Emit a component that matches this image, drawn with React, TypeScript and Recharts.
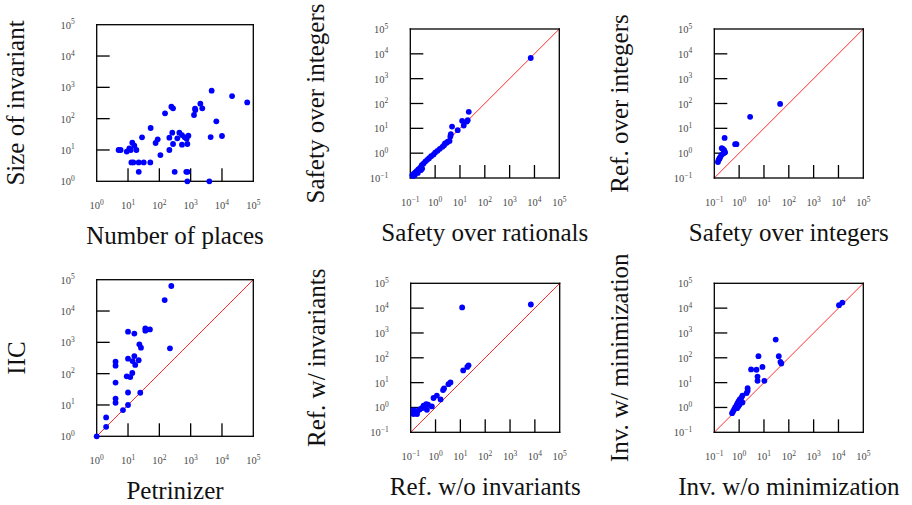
import React from "react";
import { Label, ReferenceLine, Scatter, ScatterChart, XAxis, YAxis } from "recharts";

// number of places vs size of invariant
const placesX = [5.0, 5.8, 9.1, 11, 12.2, 13.7, 15.9, 18.5, 12.8, 14.8, 21.9, 31.7, 51.5, 22, 28, 52.8, 76, 88.6, 108, 152, 209, 209, 242, 274, 259, 274, 309, 375, 436, 528, 528, 646, 745, 785, 846, 725, 800, 785, 1280, 1410, 1380, 2040, 2350, 4680, 4350, 6600, 3950, 10000, 21000, 64000];
const invariantSizeY = [10, 10, 8.9, 11.3, 10, 17, 13.7, 10, 4, 4, 4, 4, 4, 2, 25.4, 50.4, 16.7, 21.9, 6.9, 148, 10, 24.7, 241, 214, 35.8, 15.5, 2, 23.6, 35.8, 30, 14.8, 25.4, 23, 15.5, 28.7, 2, 2, 1, 131, 189, 209, 302, 214, 782, 25.9, 82, 1, 28, 528, 331];

// safety: rationals vs integers
const safetyRatX = [7070, 22.6, 20.5, 18.8, 12.2, 14.2, 8.1, 4.8, 4.3, 4.1, 3.8, 3.2, 2.9, 2.5, 2.3, 1.97, 1.54, 1.24, 1.0, 0.86, 0.69, 0.57, 0.48, 0.4, 0.34, 0.29, 0.25, 0.27, 0.21, 0.2, 0.18, 0.16, 0.14, 0.12, 0.13, 0.15, 0.23, 0.3];
const safetyIntY = [6800, 46, 21.3, 18.7, 20, 13, 8.4, 11.8, 5.8, 4.7, 3.1, 2.9, 2.6, 2.45, 2.1, 1.8, 1.49, 1.24, 1.06, 0.88, 0.76, 0.63, 0.54, 0.46, 0.38, 0.33, 0.26, 0.21, 0.22, 0.16, 0.19, 0.17, 0.15, 0.13, 0.12, 0.13, 0.2, 0.24];

// safety over integers vs refinement over integers
const safetyIntX = [44.7, 2.77, 0.26, 0.69, 0.78, 0.2, 0.25, 0.27, 0.23, 0.19, 0.17, 0.15, 0.14, 0.26, 0.22, 0.16];
const refIntY = [96, 29, 4.1, 2.3, 2.3, 1.59, 1.32, 1.1, 0.97, 0.83, 0.67, 0.54, 0.44, 1.06, 1.5, 0.6];

// petrinizer vs IIC
const petrinizerX = [1, 2, 2, 4, 4, 4, 4, 4, 6.9, 10, 10, 9.1, 11.8, 13.7, 10, 10, 15.9, 14, 15.9, 17, 21.9, 24.6, 23, 25.9, 35.7, 35.7, 50, 148, 241, 218];
const iicY = [1, 2, 4, 11.8, 16, 52, 180, 240, 6.9, 10, 25, 82, 78, 105, 300, 2190, 1900, 253, 365, 190, 268, 24.6, 867, 676, 2800, 2350, 2590, 22400, 63000, 645];

// refinement without / with invariants
const refNoInvX = [6900, 11.8, 21.3, 19, 13, 4, 3.3, 2.2, 2, 1.6, 1.13, 0.83, 0.71, 0.42, 0.45, 0.33, 0.28, 0.23, 0.19, 0.15, 0.13, 0.18, 0.13, 0.5, 0.38];
const refInvY = [14000, 10700, 50, 43, 31, 10.2, 8.7, 5.8, 5, 2.1, 3.0, 2.4, 1.1, 1.36, 0.81, 1.17, 0.94, 0.83, 0.73, 0.63, 0.54, 0.54, 0.78, 1.3, 1.0];

// invariants without / with minimization
const invNoMinX = [14400, 10500, 29.7, 39.5, 6, 50, 46, 8.7, 3.03, 5, 5.5, 5.5, 10.4, 2.2, 2.2, 2.0, 1.36, 1.24, 1.06, 0.94, 0.85, 0.78, 0.69, 0.63, 0.57, 0.52, 1.36, 1.06, 0.94, 0.83];
const invMinY = [16700, 13100, 540, 116, 116, 59, 69, 43, 34, 33, 17.6, 11.8, 11.8, 6, 4.7, 3.8, 3.0, 2.5, 2.1, 1.74, 1.45, 1.2, 1.0, 0.83, 0.69, 0.59, 1.59, 1.36, 1.13, 0.94];

const ticksFrom01 = [0.1, 1, 10, 100, 1000, 10000, 100000];
const ticksFrom1 = [1, 10, 100, 1000, 10000, 100000];
const MAX = 100000;

const TICK_LEN = 13;
const LW = 1.3;
const Y_AXIS_W = 40;
const X_AXIS_H = 40;
const SERIF = "'Liberation Serif', 'Times New Roman', serif";

const TickText = ({ x, y, anchor, value }: { x: number; y: number; anchor: string; value: number }) => {
    const e = Math.round(Math.log10(value));
    return (
        <text x={x} y={y} textAnchor={anchor as any} fontFamily={SERIF} fontSize={10.5} fill="#4a4a4a">
            10
            <tspan dy={-4.5} fontSize={7.5}>
                {e < 0 ? `\u2212${-e}` : `${e}`}
            </tspan>
        </text>
    );
};

// inward tick marks as thin filled bars on the frame
const xTickShape = (s: any) => <rect x={s.cx - LW / 2} y={s.cy - TICK_LEN} width={LW} height={TICK_LEN} fill="#000" />;
const yTickShape = (s: any) => <rect x={s.cx} y={s.cy - LW / 2} width={TICK_LEN} height={LW} fill="#000" />;
const dotShape = (s: any) => <circle cx={s.cx} cy={s.cy} r={2.9} fill="#0000ff" />;

interface PanelProps {
    id: string;
    left: number;
    top: number;
    width: number;
    height: number;
    boxX: number;
    boxY: number;
    box: number;
    min: number;
    xs: number[];
    ys: number[];
    xTitle: string;
    yTitle: string;
    yTitleGap: number;
    diagonal: boolean;
}

const ScatterPanel: React.FC<PanelProps> = (p) => {
    const bl = p.boxX - p.left;
    const bt = p.boxY - p.top;
    const bottom = bt + p.box;
    const ticks = p.min < 1 ? ticksFrom01 : ticksFrom1;
    const inner = ticks.filter((v) => v > p.min && v < MAX);
    const data = p.xs.map((x, i) => ({ x, y: p.ys[i] }));
    const xTickData = inner.map((v) => ({ x: v, y: p.min }));
    const yTickData = inner.map((v) => ({ x: p.min, y: v }));
    const originData = [{ x: p.min, y: p.min }];

    // frame drawn from the lower-left corner of the plot, as four filled bars
    const frameShape = (s: any) => {
        const x0 = s.cx;
        const y0 = s.cy;
        const w = p.box;
        return (
            <g>
                <rect x={x0 - LW / 2} y={y0 - LW / 2} width={w + LW} height={LW} fill="#000" />
                <rect x={x0 - LW / 2} y={y0 - w - LW / 2} width={w + LW} height={LW} fill="#000" />
                <rect x={x0 - LW / 2} y={y0 - w - LW / 2} width={LW} height={w + LW} fill="#000" />
                <rect x={x0 + w - LW / 2} y={y0 - w - LW / 2} width={LW} height={w + LW} fill="#000" />
            </g>
        );
    };

    const renderXTick = (t: any) => <TickText x={t.x} y={bottom + 28} anchor="middle" value={t.payload.value} />;
    const renderYTick = (t: any) => <TickText x={bl - 22} y={t.y + 4} anchor="end" value={t.payload.value} />;

    return (
        <div style={{ position: "absolute", left: p.left, top: p.top }}>
            <ScatterChart
                id={p.id}
                width={p.width}
                height={p.height}
                margin={{
                    top: bt,
                    left: bl - Y_AXIS_W,
                    right: p.width - bl - p.box,
                    bottom: p.height - bt - p.box - X_AXIS_H,
                }}
            >
                <XAxis
                    type="number"
                    dataKey="x"
                    scale="log"
                    domain={[p.min, MAX]}
                    ticks={ticks}
                    interval={0}
                    height={X_AXIS_H}
                    axisLine={false}
                    tickLine={false}
                    tick={renderXTick}
                >
                    <Label
                        content={() => (
                            <text x={bl + p.box / 2} y={bottom + 63} textAnchor="middle" fontFamily={SERIF} fontSize={25} fill="#111">
                                {p.xTitle}
                            </text>
                        )}
                    />
                </XAxis>
                <YAxis
                    type="number"
                    dataKey="y"
                    scale="log"
                    domain={[p.min, MAX]}
                    ticks={ticks}
                    interval={0}
                    width={Y_AXIS_W}
                    axisLine={false}
                    tickLine={false}
                    tick={renderYTick}
                >
                    <Label
                        content={() => {
                            const tx = bl - p.yTitleGap;
                            const ty = bt + p.box / 2;
                            return (
                                <text
                                    x={tx}
                                    y={ty}
                                    transform={`rotate(-90, ${tx}, ${ty})`}
                                    textAnchor="middle"
                                    fontFamily={SERIF}
                                    fontSize={25}
                                    fill="#111"
                                >
                                    {p.yTitle}
                                </text>
                            );
                        }}
                    />
                </YAxis>
                {p.diagonal && (
                    <ReferenceLine
                        segment={[
                            { x: p.min, y: p.min },
                            { x: MAX, y: MAX },
                        ]}
                        ifOverflow="visible"
                        stroke="#ff2a2a"
                        strokeWidth={1}
                    />
                )}
                <Scatter name="frame" data={originData} isAnimationActive={false} shape={frameShape} />
                <Scatter name="xticks" data={xTickData} isAnimationActive={false} shape={xTickShape} />
                <Scatter name="yticks" data={yTickData} isAnimationActive={false} shape={yTickShape} />
                <Scatter name="points" data={data} isAnimationActive={false} shape={dotShape} />
            </ScatterChart>
        </div>
    );
};

export default function App() {
    return (
        <div style={{ position: "absolute", left: 0, top: 0, width: 912, height: 505 }}>
            <ScatterPanel id="p1" left={0} top={0} width={300} height={250} boxX={96.7} boxY={24.7} box={156.6} min={1}
                xs={placesX} ys={invariantSizeY} xTitle="Number of places" yTitle="Size of invariant" yTitleGap={73} diagonal={false} />
            <ScatterPanel id="p2" left={300} top={0} width={305} height={250} boxX={410.3} boxY={29} box={149} min={0.1}
                xs={safetyRatX} ys={safetyIntY} xTitle="Safety over rationals" yTitle="Safety over integers" yTitleGap={86} diagonal />
            <ScatterPanel id="p3" left={605} top={0} width={307} height={250} boxX={714.3} boxY={29} box={149} min={0.1}
                xs={safetyIntX} ys={refIntY} xTitle="Safety over integers" yTitle="Ref. over integers" yTitleGap={86} diagonal />
            <ScatterPanel id="p4" left={0} top={250} width={300} height={255} boxX={96.7} boxY={279.7} box={156.6} min={1}
                xs={petrinizerX} ys={iicY} xTitle="Petrinizer" yTitle="IIC" yTitleGap={72} diagonal />
            <ScatterPanel id="p5" left={300} top={250} width={305} height={255} boxX={410.7} boxY={283.3} box={149} min={0.1}
                xs={refNoInvX} ys={refInvY} xTitle="Ref. w/o invariants" yTitle="Ref. w/ invariants" yTitleGap={86} diagonal />
            <ScatterPanel id="p6" left={605} top={250} width={307} height={255} boxX={714.3} boxY={283.3} box={149} min={0.1}
                xs={invNoMinX} ys={invMinY} xTitle="Inv. w/o minimization" yTitle="Inv. w/ minimization" yTitleGap={86} diagonal />
        </div>
    );
}
